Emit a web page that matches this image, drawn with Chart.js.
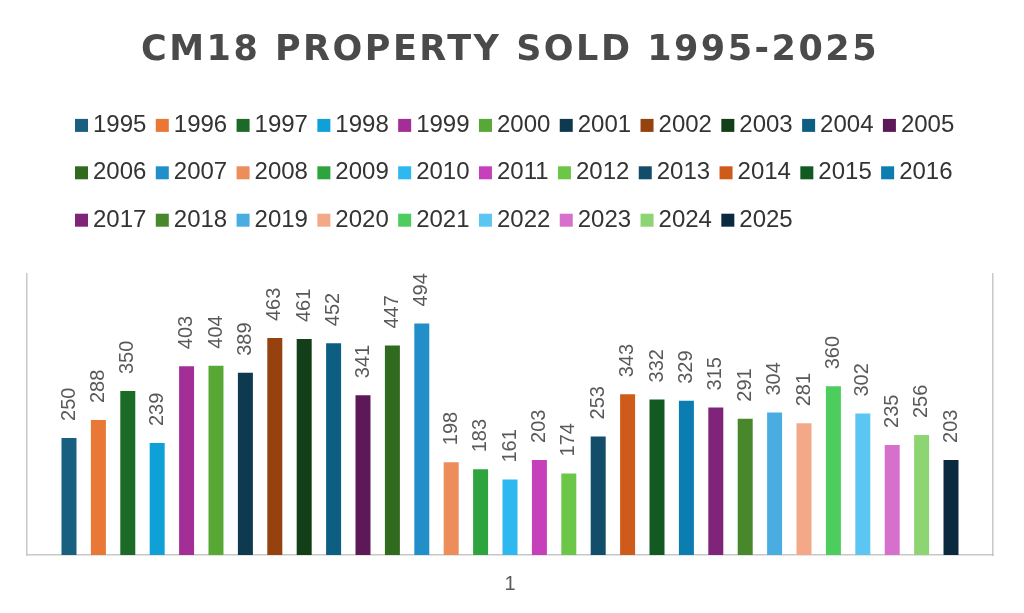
<!DOCTYPE html>
<html>
<head>
<meta charset="utf-8">
<script src="https://cdn.jsdelivr.net/npm/chart.js@4.4.1/dist/chart.umd.min.js"></script>
<style>
html,body{margin:0;padding:0;background:#ffffff;}
#wrap{width:1024px;height:613px;position:relative;}
</style>
</head>
<body>
<div id="wrap"><canvas id="c"></canvas></div>
<script>
// ---- data ----
const categories = ['1'];
const years = ['1995','1996','1997','1998','1999','2000','2001','2002','2003','2004','2005',
               '2006','2007','2008','2009','2010','2011','2012','2013','2014','2015','2016',
               '2017','2018','2019','2020','2021','2022','2023','2024','2025'];
const sold = [250,288,350,239,403,404,389,463,461,452,341,
              447,494,198,183,161,203,174,253,343,332,329,
              315,291,304,281,360,302,235,256,203];
const colors = ['#185f80','#e97735','#1b6b27','#10a0d8','#a32e96','#57a834','#0e3a50','#95420f','#123f17','#0d5e83','#5c1857',
                '#306a1e','#238fc8','#ee8d5c','#2da43e','#2db8ef','#c63fbb','#6cc748','#124d6a','#cf5b1a','#135a22','#0b7db0',
                '#80247a','#48872c','#49ade1','#f3a988','#4dcd5d','#5cc6f2','#d76fcc','#8dd572','#0c2a3f'];
const yMin = 0;
const yMax = 600;
const titleText = 'CM18 PROPERTY SOLD 1995-2025';

const FONT = "'Liberation Sans', Arial, sans-serif";
const AXIS_COLOR = '#c8c8c8';
const LEGEND_START_X = 75;
const SWATCH = 13;
const TOP_GAP = 24.7;
const X_AXIS_HEIGHT = 58;

Chart.defaults.font.family = FONT;

const datasets = years.map((y, i) => ({
  label: y,
  data: [sold[i]],
  backgroundColor: colors[i],
  borderWidth: 0,
  categoryPercentage: 0.9435,
  barPercentage: 0.51,
  xAxisID: 'x',
  yAxisID: 'y'
}));

const customPlugin = {
  id: 'customPlugin',
  afterLayout(chart) {
    const lg = chart.legend;
    if (lg && lg.options.display) {
      lg.left = LEGEND_START_X - lg.options.labels.padding;
    }
  },
  beforeDraw(chart) {
    const tb = chart.titleBlock;
    if (tb && !tb.__spaced) {
      const orig = tb.draw;
      tb.draw = function() {
        const c = this.ctx;
        const prev = c.letterSpacing;
        c.letterSpacing = '2.5px';
        orig.apply(this, arguments);
        c.letterSpacing = prev || '0px';
      };
      tb.__spaced = true;
    }
  },
  afterDatasetsDraw(chart) {
    const ctx = chart.ctx;
    ctx.save();
    ctx.fillStyle = '#595959';
    ctx.font = '20px ' + FONT;
    ctx.textAlign = 'left';
    ctx.textBaseline = 'middle';
    chart.data.datasets.forEach((ds, i) => {
      const meta = chart.getDatasetMeta(i);
      meta.data.forEach((bar, j) => {
        ctx.save();
        ctx.translate(bar.x, bar.y - 17);
        ctx.rotate(-Math.PI / 2);
        ctx.fillText(String(ds.data[j]), 0, 0);
        ctx.restore();
      });
    });
    ctx.restore();
  },
  afterDraw(chart) {
    const lg = chart.legend;
    if (!lg || !lg.legendHitBoxes) return;
    const ctx = chart.ctx;
    ctx.save();
    lg.legendHitBoxes.forEach((hb, i) => {
      const item = lg.legendItems[i];
      ctx.fillStyle = item.swatch;
      ctx.fillRect(hb.left, hb.top + (hb.height - SWATCH) / 2, SWATCH, SWATCH);
    });
    ctx.restore();
  }
};

new Chart(document.getElementById('c'), {
  type: 'bar',
  data: { labels: categories, datasets: datasets },
  plugins: [customPlugin],
  options: {
    responsive: true,
    maintainAspectRatio: false,
    animation: false,
    layout: { padding: { top: 0, left: 27, right: 31, bottom: 0 } },
    plugins: {
      tooltip: { enabled: false },
      title: {
        display: true,
        text: titleText,
        color: '#4a4a4a',
        font: { family: "'DejaVu Sans', sans-serif", size: 35, weight: 'bold', lineHeight: 1.2 },
        padding: { top: 30, bottom: 25 }
      },
      legend: {
        display: true,
        position: 'top',
        align: 'start',
        labels: {
          color: '#333333',
          font: { size: 24, family: FONT },
          boxWidth: 6,
          boxHeight: 38,
          padding: 9.4,
          generateLabels(chart) {
            const items = Chart.defaults.plugins.legend.labels.generateLabels(chart);
            return items.map(it => Object.assign(it, {
              swatch: it.fillStyle,
              fillStyle: 'rgba(0,0,0,0)',
              strokeStyle: 'rgba(0,0,0,0)',
              lineWidth: 0
            }));
          }
        }
      }
    },
    scales: {
      x: {
        type: 'category',
        position: 'bottom',
        grid: { display: false, drawTicks: false },
        border: { display: true, color: AXIS_COLOR, width: 1.5 },
        ticks: { color: '#595959', font: { size: 20, family: FONT }, padding: 17 },
        afterFit(s) { s.height = X_AXIS_HEIGHT; }
      },
      xTop: {
        type: 'category',
        labels: categories,
        position: 'top',
        display: true,
        grid: { display: false, drawTicks: false },
        border: { display: false },
        ticks: { display: false },
        afterFit(s) { s.height = TOP_GAP; }
      },
      y: {
        type: 'linear',
        position: 'left',
        min: yMin,
        max: yMax,
        grid: { display: false, drawTicks: false },
        border: { display: true, color: AXIS_COLOR, width: 1.5 },
        ticks: { display: false }
      },
      y2: {
        type: 'linear',
        position: 'right',
        min: yMin,
        max: yMax,
        display: true,
        grid: { display: false, drawTicks: false },
        border: { display: true, color: AXIS_COLOR, width: 1.5 },
        ticks: { display: false }
      }
    }
  }
});
</script>
</body>
</html>
